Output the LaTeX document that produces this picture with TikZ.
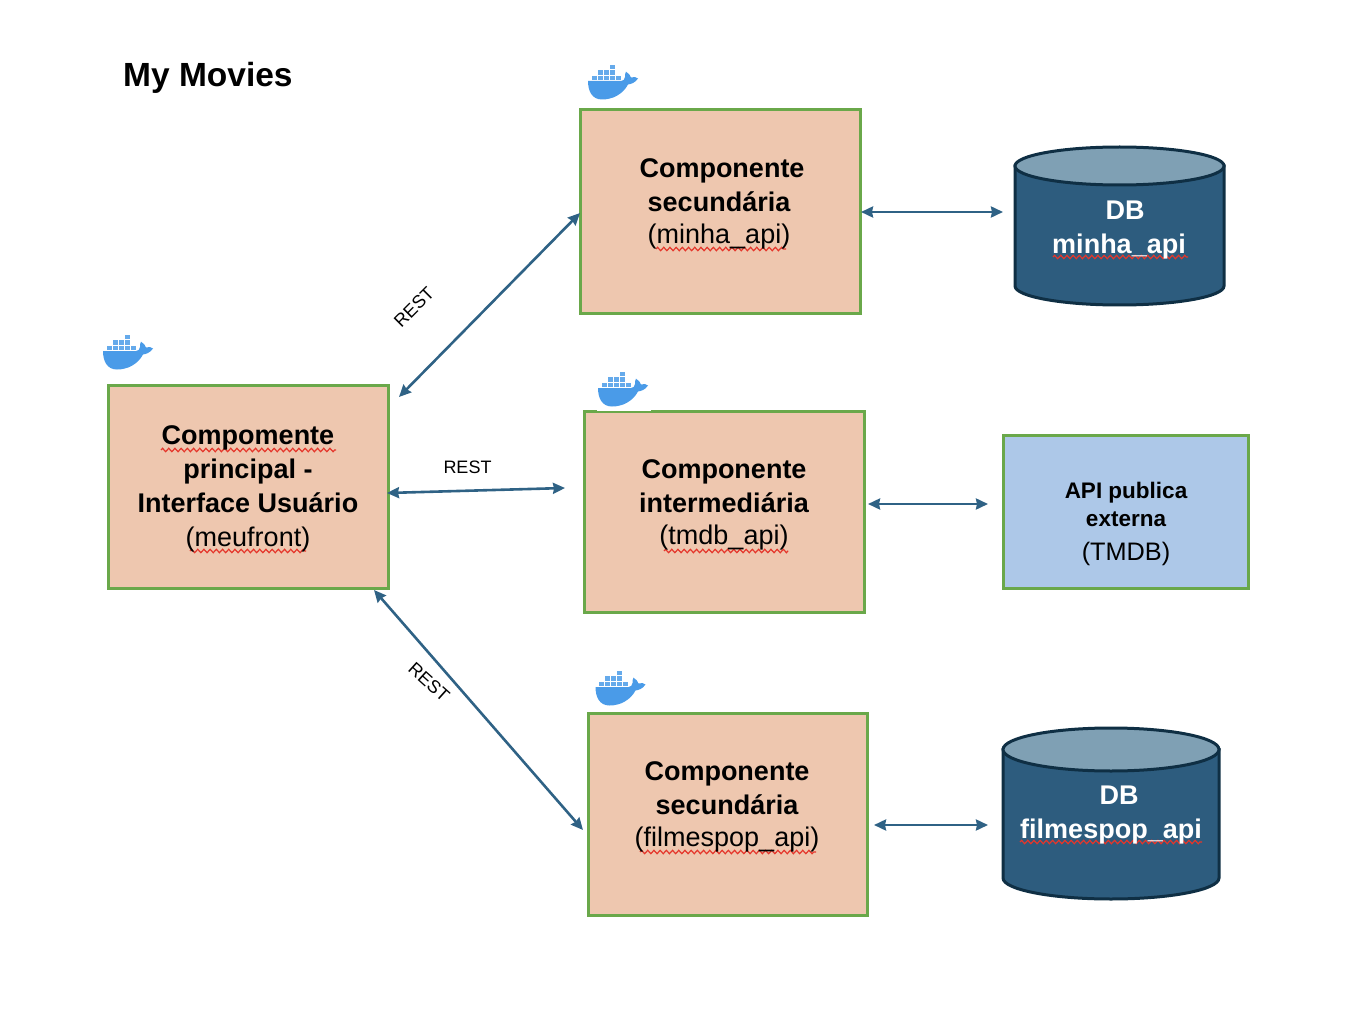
\documentclass[tikz,border=0pt]{standalone}
\usepackage{fontspec}
\setmainfont{Liberation Sans}
\usetikzlibrary{arrows.meta,decorations.pathmorphing}
\definecolor{boxgreen}{HTML}{6AA84A}
\definecolor{peach}{HTML}{EEC7AF}
\definecolor{skyfill}{HTML}{ADC8E8}
\definecolor{dbbody}{HTML}{2D5C7E}
\definecolor{dbtop}{HTML}{7FA0B4}
\definecolor{dbline}{HTML}{0F2F44}
\definecolor{arrowblue}{HTML}{2F6285}
\definecolor{whaleblue}{HTML}{4A9BE8}
\definecolor{wavered}{HTML}{E5362B}
\newcommand{\fs}[1]{\fontsize{#1}{#1}\selectfont}
\tikzset{
  x=1pt,y=-1pt,
  compbox/.style={draw=boxgreen,line width=3pt,fill=peach,inner sep=0pt,outer sep=0pt,anchor=north west,align=center},
  apibox/.style={draw=boxgreen,line width=3pt,fill=skyfill,inner sep=0pt,outer sep=0pt,anchor=north west},
  boxtext/.style={inner sep=0pt,anchor=center,text height=18pt,text depth=5pt},
  dbtext/.style={boxtext,text=white},
  link/.style={draw=arrowblue,line width=2.6pt,{Stealth[length=12pt,width=11pt,inset=1pt]}-{Stealth[length=12pt,width=11pt,inset=1pt]}},
  restlabel/.style={inner sep=0pt,font=\fs{18}},
  wave/.style={draw=wavered,line width=1.2pt,decorate,decoration={zigzag,segment length=6.2pt,amplitude=1.7pt}},
  cylbody/.style={fill=dbbody,draw=dbline,line width=3pt},
  cyltop/.style={fill=dbtop,draw=dbline,line width=3pt},
  whale/.pic={
    \fill[whaleblue] (0,16) -- (33,16) .. controls (35,16) and (37,14.5) .. (37,12)
      .. controls (37,10) and (37,8) .. (38,6.7) .. controls (41,8.5) and (42,10) .. (43,12.5)
      .. controls (46,11.5) and (48,12) .. (50,13.5) .. controls (47,18) and (43,19) .. (40,19.5)
      .. controls (35,29) and (25,34.5) .. (14,34.5) .. controls (4,34.5) and (0,26) .. (0,16) -- cycle;
    \foreach \k in {0,...,4} \fill[whaleblue!85] ({3.6+6*\k},10.8) rectangle ++(5.2,4.4);
    \foreach \k in {1,2,3} \fill[whaleblue!85] ({3.6+6*\k},5.4) rectangle ++(5.2,4.4);
    \fill[whaleblue!85] (21.6,0) rectangle ++(5.2,4.4);
  }
}
\begin{document}
\begin{tikzpicture}
\useasboundingbox (0,0) rectangle (1352,1016);
\node[anchor=west,inner sep=0pt,font=\bfseries\fs{33.5}] (title) at (123,77.5) {My Movies};

% component boxes
\node[compbox,minimum width=280pt,minimum height=204pt] (top) at (580,110) {};
\node[compbox,minimum width=280pt,minimum height=201pt] (mid) at (584,411) {};
\node[compbox,minimum width=279.5pt,minimum height=202pt] (bot) at (588,713) {};
\node[compbox,minimum width=280pt,minimum height=203pt] (front) at (108,385) {};
\node[apibox,minimum width=245.5pt,minimum height=153pt] (ext) at (1003,435) {};
\draw[white,line width=1.6pt] (597,410) -- (651,410);

% whales
\pic at (588,65) {whale};
\pic at (103,335) {whale};
\pic at (598,372) {whale};
\pic at (595.5,671) {whale};

% databases
\draw[cylbody] (1015,166) -- (1015,286) arc[start angle=180,end angle=360,x radius=104.5pt,y radius=19pt] -- (1224,166) -- cycle;
\draw[cyltop] (1119.5,166) ellipse[x radius=104.5pt,y radius=19pt];
\draw[cylbody] (1003,749.5) -- (1003,878) arc[start angle=180,end angle=360,x radius=108pt,y radius=21pt] -- (1219,749.5) -- cycle;
\draw[cyltop] (1111,749.5) ellipse[x radius=108pt,y radius=21.5pt];

% wavy underlines
\draw[wave] (161,450) -- (336,450);
\draw[wave] (190,551) -- (306,551);
\draw[wave] (656,249) -- (786,249);
\draw[wave] (664,551) -- (788,551);
\draw[wave] (640,852) -- (816,852);
\draw[wave] (1053,257) -- (1188,257);
\draw[wave] (1020,842) -- (1202,842);

% texts
\begin{scope}[every node/.append style={font=\fs{27}}]
\node[boxtext,font=\bfseries\fs{27}] (t1) at (722,171) {Componente};
\node[boxtext,font=\bfseries\fs{27}] (t2) at (719,205) {secundária};
\node[boxtext] (t3) at (719,237) {(minha\_api)};
\node[boxtext,font=\bfseries\fs{27}] (m1) at (724,472) {Componente};
\node[boxtext,font=\bfseries\fs{27}] (m2) at (724,506) {intermediária};
\node[boxtext] (m3) at (724,538) {(tmdb\_api)};
\node[boxtext,font=\bfseries\fs{27}] (b1) at (727,774) {Componente};
\node[boxtext,font=\bfseries\fs{27}] (b2) at (727,808) {secundária};
\node[boxtext] (b3) at (727,840) {(filmespop\_api)};
\node[boxtext,font=\bfseries\fs{27}] (f1) at (248,438) {Compomente};
\node[boxtext,font=\bfseries\fs{27}] (f2) at (248,472) {principal -};
\node[boxtext,font=\bfseries\fs{27}] (f3) at (248,506) {Interface Usuário};
\node[boxtext] (f4) at (248,540) {(meufront)};
\node[boxtext,font=\bfseries\fs{22.5}] (e1) at (1126,492) {API publica};
\node[boxtext,font=\bfseries\fs{22.5}] (e2) at (1126,520) {externa};
\node[boxtext,font=\fs{25.3}] (e3) at (1126,554) {(TMDB)};
\node[dbtext,font=\bfseries\fs{27}] (d1) at (1125,213) {DB};
\node[dbtext,font=\bfseries\fs{27}] (d2) at (1119,247) {minha\_api};
\node[dbtext,font=\bfseries\fs{27}] (d3) at (1119,798) {DB};
\node[dbtext,font=\bfseries\fs{27}] (d4) at (1111,832) {filmespop\_api};
\end{scope}

% connector ends, each just clear of its node
\coordinate (topW) at (580,213);
\coordinate (frontNE) at (399,397);
\coordinate (frontE) at (387,493);
\coordinate (midW) at (565,488);
\coordinate (frontS) at (374,590);
\coordinate (botW) at (583,830);
\coordinate (topE) at (861,212);
\coordinate (db1W) at (1003,212);
\coordinate (midE) at (868,504);
\coordinate (extW) at (988,504);
\coordinate (botE) at (874,825);
\coordinate (db2W) at (988,825);

\draw[link] (topW) -- (frontNE);
\draw[link] (frontE) -- (midW);
\draw[link] (frontS) -- (botW);
\draw[link] (topE) -- (db1W);
\draw[link] (midE) -- (extW);
\draw[link] (botE) -- (db2W);

\node[restlabel,rotate=45] (r1) at (414,307) {REST};
\node[restlabel] (r2) at (467.5,467) {REST};
\node[restlabel,rotate=-42] (r3) at (429,682) {REST};
\end{tikzpicture}
\end{document}
